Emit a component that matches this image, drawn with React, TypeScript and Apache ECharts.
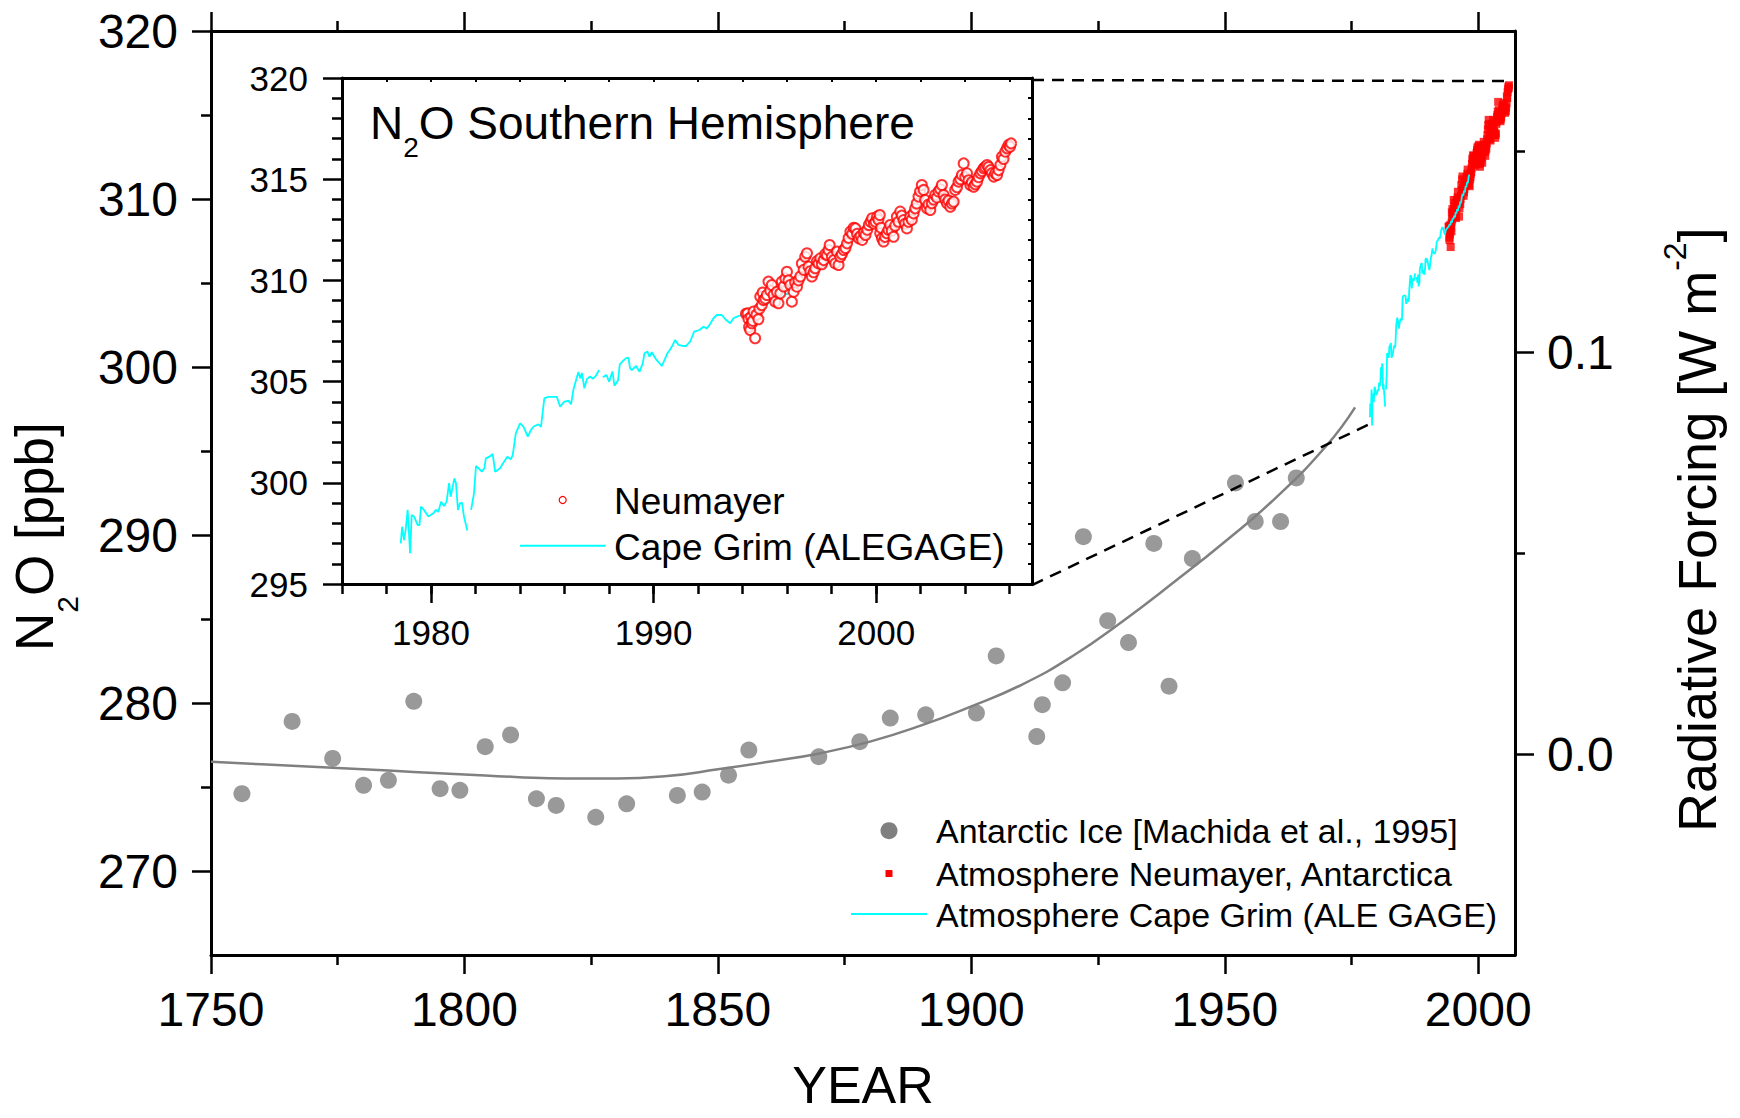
import React, { useEffect, useRef } from 'react';
import * as echarts from 'echarts';

const FONT = '"Liberation Sans", Arial, Helvetica, sans-serif';

// ---------- tick values ----------
const MAIN_MAJOR_YEARS = [1750, 1800, 1850, 1900, 1950, 2000];
const MAIN_MINOR_YEARS = [1775, 1825, 1875, 1925, 1975];
const MAIN_PPB_LABELS = [270, 280, 290, 300, 310, 320];
const MAIN_PPB_MINOR = [275, 285, 295, 305, 315];
const RF_LABELS = [0, 0.1];
const RF_MINOR = [0.05, 0.15];
const INSET_YEAR_LABELS = [1980, 1990, 2000];
const INSET_YEAR_MINOR = [1976, 1978, 1980, 1982, 1984, 1986, 1988, 1990, 1992, 1994, 1996, 1998, 2000, 2002, 2004, 2006];

// ---------- Antarctic ice core (Machida et al., 1995) ----------
const iceYears = [1756.1, 1766.0, 1774.0, 1780.1, 1785.0, 1790.0, 1795.2, 1799.1, 1804.1, 1809.1, 1814.2, 1818.1, 1825.9, 1832.0, 1842.0, 1846.9, 1852.1, 1856.1, 1869.9, 1878.0, 1884.0, 1891.0, 1901.0, 1904.9, 1912.9, 1914.0, 1918.0, 1922.1, 1926.9, 1931.0, 1936.0, 1939.0, 1943.6, 1952.1, 1956.0, 1961.0, 1964.1];
const icePpb = [274.6, 278.9, 276.7, 275.1, 275.4, 280.1, 274.9, 274.8, 277.4, 278.1, 274.3, 273.9, 273.2, 274.0, 274.5, 274.7, 275.7, 277.2, 276.8, 277.7, 279.1, 279.3, 279.4, 282.8, 278.0, 279.9, 281.2, 289.9, 284.9, 283.6, 289.5, 281.0, 288.6, 293.1, 290.8, 290.8, 293.4];

// ---------- smooth fit through ice core ----------
const fitYears = [1750, 1760, 1770, 1780, 1790, 1800, 1810, 1820, 1830, 1840, 1850, 1860, 1870, 1880, 1890, 1900, 1910, 1920, 1930, 1940, 1950, 1960, 1970, 1975.7];
const fitPpb = [276.5, 276.35, 276.2, 276.05, 275.9, 275.75, 275.6, 275.5, 275.5, 275.65, 276.05, 276.5, 277.0, 277.7, 278.65, 279.8, 281.1, 282.8, 284.9, 287.2, 289.6, 292.2, 295.3, 297.6];

// ---------- Cape Grim (ALE/GAGE), null = data gap ----------
const capeGrim: [number, number | null][] = [
  [1978.64, 297.01], [1978.70, 297.83], [1978.79, 297.17], [1978.86, 297.67], [1978.95, 298.66], [1979.06, 296.52], [1979.13, 298.41], [1979.24, 298.33], [1979.40, 297.91], [1979.48, 297.91], [1979.55, 298.82], [1979.66, 298.69], [1979.88, 298.33], [1980.10, 298.49], [1980.22, 298.66], [1980.33, 298.57], [1980.45, 299.07], [1980.58, 298.85], [1980.70, 299.07], [1980.81, 299.98], [1980.88, 299.31], [1981.05, 300.22], [1981.12, 299.98], [1981.21, 298.66], [1981.30, 298.99], [1981.39, 299.02], [1981.48, 298.33], [1981.63, 297.64],
  [1981.72, null],
  [1981.80, 298.66], [1981.93, 299.48], [1982.02, 300.83], [1982.13, 300.72], [1982.28, 300.55], [1982.40, 300.72], [1982.46, 301.21], [1982.62, 301.29], [1982.77, 301.42], [1982.88, 300.55], [1983.10, 300.72], [1983.25, 300.99], [1983.43, 301.29], [1983.58, 301.16], [1983.67, 301.37], [1983.81, 302.45], [1984.00, 302.94], [1984.15, 302.77], [1984.35, 302.28], [1984.49, 302.61], [1984.60, 302.77], [1984.82, 302.89], [1984.94, 302.77], [1985.09, 304.17], [1985.27, 304.25], [1985.65, 304.25], [1985.80, 303.76], [1985.98, 304.0], [1986.17, 304.06], [1986.29, 303.88], [1986.40, 304.62], [1986.62, 305.47], [1986.71, 305.16], [1986.78, 305.43], [1986.89, 304.67], [1987.00, 305.12], [1987.15, 305.26], [1987.27, 305.13], [1987.40, 305.28], [1987.55, 305.57],
  [1987.63, null],
  [1987.72, 305.21], [1987.88, 305.33], [1988.00, 305.0], [1988.15, 305.5], [1988.24, 304.8], [1988.40, 305.05], [1988.48, 305.85], [1988.65, 306.05], [1988.75, 306.15], [1988.87, 306.18], [1988.94, 305.66], [1989.02, 305.57], [1989.21, 305.77], [1989.37, 305.49], [1989.51, 305.90], [1989.59, 306.40], [1989.72, 306.48], [1989.81, 306.23], [1989.92, 306.45], [1990.11, 306.10], [1990.37, 305.77], [1990.52, 306.15], [1990.62, 306.40], [1990.74, 306.59], [1990.86, 306.81], [1990.97, 307.06], [1991.12, 306.81], [1991.31, 306.76], [1991.46, 306.76], [1991.64, 306.97], [1991.82, 307.47], [1992.06, 307.55], [1992.24, 307.71], [1992.39, 307.63], [1992.51, 307.80], [1992.69, 308.13], [1992.84, 308.29], [1993.06, 308.29], [1993.26, 308.04], [1993.44, 307.88], [1993.59, 308.13], [1993.74, 308.21], [1993.96, 308.29], [1994.19, 308.37],
  [1994.35, 308.5], [1994.5, 308.45], [1994.65, 308.7], [1994.8, 308.6], [1994.95, 308.85], [1995.1, 308.8], [1995.25, 309.0], [1995.4, 308.9], [1995.55, 309.2], [1995.7, 309.15], [1995.85, 309.4], [1996.0, 309.3], [1996.15, 309.6], [1996.3, 309.5], [1996.45, 309.85], [1996.6, 309.75], [1996.75, 310.1], [1996.9, 310.3], [1997.05, 310.2], [1997.2, 310.5], [1997.35, 310.4], [1997.5, 310.75], [1997.65, 310.7], [1997.8, 311.0], [1997.95, 310.95], [1998.1, 311.3], [1998.22, 311.45],
];

// ---------- Neumayer, Antarctica ----------
const neumayer: [number, number][] = [
  [1994.15, 308.35], [1994.22, 308.37], [1994.26, 308.1], [1994.29, 307.7], [1994.34, 307.55], [1994.38, 308.2], [1994.41, 307.88], [1994.45, 308.0], [1994.49, 308.46], [1994.56, 307.14], [1994.62, 308.3], [1994.71, 308.08], [1994.75, 308.6], [1994.79, 309.2], [1994.86, 308.78], [1994.90, 309.4], [1994.94, 309.03], [1995.02, 309.1], [1995.09, 309.28], [1995.16, 309.94], [1995.24, 309.5], [1995.31, 309.77], [1995.39, 309.28], [1995.46, 308.95], [1995.54, 309.44], [1995.61, 308.87], [1995.69, 309.36], [1995.76, 309.94], [1995.84, 309.7], [1995.92, 310.1], [1995.99, 310.43],
  [1996.06, 310.0], [1996.14, 309.77], [1996.21, 308.95], [1996.29, 309.44], [1996.36, 309.9], [1996.44, 309.69], [1996.51, 310.0], [1996.59, 310.19], [1996.66, 310.84], [1996.74, 310.52], [1996.81, 311.17], [1996.89, 311.34], [1996.96, 310.68], [1997.04, 310.45], [1997.11, 310.19], [1997.19, 310.4], [1997.26, 310.6], [1997.34, 310.95], [1997.41, 310.84], [1997.49, 311.09], [1997.56, 310.8], [1997.64, 311.0], [1997.71, 311.3], [1997.79, 311.25], [1997.86, 311.5], [1997.91, 311.75],
  [1998.01, 311.17], [1998.09, 311.0], [1998.16, 310.84], [1998.24, 311.42], [1998.31, 310.76], [1998.39, 311.17], [1998.46, 311.3], [1998.54, 311.5], [1998.62, 311.6], [1998.69, 311.83], [1998.76, 312.1], [1998.84, 312.41], [1998.92, 312.3], [1998.99, 312.6], [1999.07, 312.57], [1999.14, 312.3], [1999.22, 312.08], [1999.30, 312.2], [1999.37, 312.0], [1999.45, 312.35], [1999.52, 312.24], [1999.60, 312.5], [1999.67, 312.74], [1999.75, 312.9], [1999.82, 313.07], [1999.90, 312.8], [1999.97, 312.9],
  [2000.04, 313.15], [2000.10, 313.0], [2000.16, 313.23], [2000.18, 312.33], [2000.22, 312.6], [2000.26, 312.08], [2000.33, 311.92], [2000.40, 312.15], [2000.48, 312.33], [2000.55, 312.5], [2000.63, 312.74], [2000.70, 312.45], [2000.78, 312.16], [2000.85, 312.7], [2000.93, 313.15], [2001.00, 312.9], [2001.08, 313.4], [2001.15, 313.2], [2001.23, 312.98], [2001.30, 312.8], [2001.38, 312.57], [2001.45, 312.9], [2001.53, 313.15], [2001.60, 313.0], [2001.68, 313.31], [2001.75, 313.56], [2001.82, 313.8], [2001.90, 314.14], [2001.97, 314.4],
  [2002.05, 314.71], [2002.13, 314.47], [2002.20, 313.97], [2002.28, 313.56], [2002.35, 313.75], [2002.43, 313.48], [2002.50, 313.81], [2002.58, 314.0], [2002.65, 314.22], [2002.73, 314.1], [2002.80, 314.39], [2002.88, 314.5], [2002.95, 314.71], [2003.03, 314.22], [2003.10, 314.0], [2003.18, 313.81], [2003.25, 313.95], [2003.33, 313.64], [2003.40, 313.8], [2003.48, 313.89], [2003.55, 314.47], [2003.63, 314.6], [2003.70, 314.88], [2003.78, 315.0], [2003.85, 315.21], [2003.93, 315.78],
  [2004.00, 315.1], [2004.08, 315.29], [2004.15, 314.95], [2004.23, 314.71], [2004.30, 314.85], [2004.38, 314.63], [2004.45, 314.75], [2004.53, 314.88], [2004.60, 315.1], [2004.68, 315.29], [2004.75, 315.4], [2004.83, 315.54], [2004.90, 315.6], [2004.98, 315.7], [2005.05, 315.6], [2005.13, 315.45], [2005.20, 315.3], [2005.28, 315.13], [2005.35, 315.3], [2005.43, 315.21], [2005.50, 315.45], [2005.58, 315.7], [2005.65, 316.11], [2005.72, 316.0], [2005.80, 316.36], [2005.88, 316.53], [2005.95, 316.69], [2006.01, 316.6], [2006.06, 316.77],
];

// ---------- zoom connector lines (main-axis coordinates of inset corners) ----------
const connectorTop: [number, number][] = [[1911.97, 317.08], [2006.65, 317.02]];
const connectorBottom: [number, number][] = [[1911.97, 287.02], [1979.04, 296.67]];

const BLACK = '#000000';
const GRAY = '#808080';
const RED = '#ff0000';
const CYAN = '#00ffff';

export default function App() {
  const ref = useRef<HTMLDivElement>(null);

  useEffect(() => {
    if (!ref.current) return;
    const chart = echarts.init(ref.current, null, { renderer: 'svg' });
    const ctx = document.createElement('canvas').getContext('2d')!;
    const tw = (t: string, size: number) => {
      ctx.font = `${size}px ${FONT}`;
      return ctx.measureText(t).width;
    };
    const txt = (text: string, x: number, y: number, size: number, align = 'left') => ({
      type: 'text',
      x,
      y,
      silent: true,
      style: {
        text,
        fill: BLACK,
        fontSize: size,
        fontFamily: FONT,
        align,
        verticalAlign: 'middle',
      },
    });

    const axisLine = (w = 3) => ({ show: true, onZero: false, lineStyle: { color: BLACK, width: w } });
    const noSplit = { show: false };
    const plain = (v: number) => String(v);

    // Inset title pieces
    const titleX = 370;
    const wN46 = tw('N', 46);
    const w2_28 = tw('2', 28);
    // Left axis title pieces
    const wN53 = tw('N', 53);
    const w2_30 = tw('2', 30);
    // Right axis title pieces
    const rfMain = 'Radiative Forcing [W m';
    const wRf = tw(rfMain, 54);
    const wSup = tw('-2', 32);

    const option: any = {
      animation: false,
      backgroundColor: '#ffffff',
      textStyle: { fontFamily: FONT, color: BLACK },
      grid: [
        { left: 211, top: 31, width: 1304, height: 924, show: false, containLabel: false, outerBoundsMode: 'none' },
        { left: 342, top: 78, width: 690, height: 506, show: true, backgroundColor: '#ffffff', borderWidth: 0, containLabel: false, outerBoundsMode: 'none' },
      ],
      xAxis: [
        { // 0 main bottom: labels + major ticks
          type: 'value', gridIndex: 0, position: 'bottom', min: 1750, max: 2007.25,
          axisLine: axisLine(3),
          axisTick: { show: true, customValues: MAIN_MAJOR_YEARS, length: 19, lineStyle: { color: BLACK, width: 2.5 } },
          axisLabel: { show: true, customValues: MAIN_MAJOR_YEARS, formatter: plain, fontSize: 48, fontFamily: FONT, color: BLACK, margin: 30 },
          splitLine: noSplit,
        },
        { // 1 main bottom minor ticks
          type: 'value', gridIndex: 0, position: 'bottom', min: 1750, max: 2007.25,
          axisLine: { show: false, onZero: false },
          axisTick: { show: true, customValues: MAIN_MINOR_YEARS, length: 10, lineStyle: { color: BLACK, width: 2.5 } },
          axisLabel: { show: false }, splitLine: noSplit,
        },
        { // 2 main top majors
          type: 'value', gridIndex: 0, position: 'top', min: 1750, max: 2007.25,
          axisLine: axisLine(3),
          axisTick: { show: true, customValues: MAIN_MAJOR_YEARS, length: 19, lineStyle: { color: BLACK, width: 2.5 } },
          axisLabel: { show: false }, splitLine: noSplit,
        },
        { // 3 main top minors
          type: 'value', gridIndex: 0, position: 'top', min: 1750, max: 2007.25,
          axisLine: { show: false, onZero: false },
          axisTick: { show: true, customValues: MAIN_MINOR_YEARS, length: 10, lineStyle: { color: BLACK, width: 2.5 } },
          axisLabel: { show: false }, splitLine: noSplit,
        },
        { // 4 inset bottom: labels + major ticks
          type: 'value', gridIndex: 1, position: 'bottom', min: 1976, max: 2007,
          axisLine: axisLine(3),
          axisTick: { show: true, customValues: INSET_YEAR_LABELS, length: 19, lineStyle: { color: BLACK, width: 2.5 } },
          axisLabel: { show: true, customValues: INSET_YEAR_LABELS, formatter: plain, fontSize: 35, fontFamily: FONT, color: BLACK, margin: 31 },
          splitLine: noSplit,
        },
        { // 5 inset bottom minor ticks
          type: 'value', gridIndex: 1, position: 'bottom', min: 1976, max: 2007,
          axisLine: { show: false, onZero: false },
          axisTick: { show: true, customValues: INSET_YEAR_MINOR, length: 10, lineStyle: { color: BLACK, width: 2.5 } },
          axisLabel: { show: false }, splitLine: noSplit,
        },
        { // 6 inset top frame
          type: 'value', gridIndex: 1, position: 'top', min: 1976, max: 2007,
          axisLine: axisLine(3),
          axisTick: { show: true, inside: true, customValues: INSET_YEAR_MINOR, length: 4, lineStyle: { color: BLACK, width: 2 } },
          axisLabel: { show: false }, splitLine: noSplit,
        },
      ],
      yAxis: [
        { // 0 main left labels + majors
          type: 'value', gridIndex: 0, position: 'left', min: 265, max: 320,
          axisLine: axisLine(3),
          axisTick: { show: true, customValues: MAIN_PPB_LABELS, length: 19, lineStyle: { color: BLACK, width: 2.5 } },
          axisLabel: { show: true, customValues: MAIN_PPB_LABELS, formatter: plain, fontSize: 48, fontFamily: FONT, color: BLACK, margin: 33 },
          splitLine: noSplit,
        },
        { // 1 main left minors
          type: 'value', gridIndex: 0, position: 'left', min: 265, max: 320,
          axisLine: { show: false, onZero: false },
          axisTick: { show: true, customValues: MAIN_PPB_MINOR, length: 10, lineStyle: { color: BLACK, width: 2.5 } },
          axisLabel: { show: false }, splitLine: noSplit,
        },
        { // 2 main right: radiative forcing
          type: 'value', gridIndex: 0, position: 'right', min: -0.05, max: 0.18,
          axisLine: axisLine(3),
          axisTick: { show: true, customValues: RF_LABELS, length: 19, lineStyle: { color: BLACK, width: 2.5 } },
          axisLabel: { show: true, customValues: RF_LABELS, fontSize: 48, fontFamily: FONT, color: BLACK, margin: 32, formatter: (v: number) => v.toFixed(1) },
          splitLine: noSplit,
        },
        { // 3 main right minors
          type: 'value', gridIndex: 0, position: 'right', min: -0.05, max: 0.18,
          axisLine: { show: false, onZero: false },
          axisTick: { show: true, customValues: RF_MINOR, length: 10, lineStyle: { color: BLACK, width: 2.5 } },
          axisLabel: { show: false }, splitLine: noSplit,
        },
        { // 4 inset left
          type: 'value', gridIndex: 1, position: 'left', min: 295, max: 320, interval: 5,
          axisLine: axisLine(3),
          axisTick: { show: true, length: 19, lineStyle: { color: BLACK, width: 2.5 } },
          minorTick: { show: true, splitNumber: 5, length: 10, lineStyle: { color: BLACK, width: 2.5 } },
          axisLabel: { show: true, formatter: plain, fontSize: 35, fontFamily: FONT, color: BLACK, margin: 34 },
          splitLine: noSplit, minorSplitLine: { show: false },
        },
        { // 5 inset right frame
          type: 'value', gridIndex: 1, position: 'right', min: 295, max: 320, interval: 1,
          axisLine: axisLine(3),
          axisTick: { show: true, inside: true, length: 4, lineStyle: { color: BLACK, width: 2 } },
          axisLabel: { show: false }, splitLine: noSplit,
        },
      ],
      series: [
        {
          name: 'Ice core fit', type: 'line', xAxisIndex: 0, yAxisIndex: 0,
          data: fitYears.map((y, i) => [y, fitPpb[i]]),
          smooth: 0.5, symbol: 'none', showSymbol: false,
          lineStyle: { color: GRAY, width: 2.5 }, z: 2, silent: true,
        },
        {
          name: 'Antarctic Ice [Machida et al., 1995]', type: 'scatter', xAxisIndex: 0, yAxisIndex: 0,
          data: iceYears.map((y, i) => [y, icePpb[i]]),
          symbol: 'circle', symbolSize: 17, itemStyle: { color: GRAY }, z: 3, silent: true,
        },
        {
          name: 'Atmosphere Neumayer, Antarctica', type: 'scatter', xAxisIndex: 0, yAxisIndex: 0,
          data: neumayer, symbol: 'rect', symbolSize: 8, itemStyle: { color: RED }, z: 4, silent: true,
        },
        {
          name: 'Atmosphere Cape Grim (ALE GAGE)', type: 'line', xAxisIndex: 0, yAxisIndex: 0,
          data: capeGrim, connectNulls: false, symbol: 'none', showSymbol: false,
          lineStyle: { color: CYAN, width: 1.8 }, z: 5, silent: true,
        },
        {
          name: 'connector top', type: 'line', xAxisIndex: 0, yAxisIndex: 0,
          data: connectorTop, symbol: 'none', showSymbol: false,
          lineStyle: { color: BLACK, width: 2.5, type: [12, 8] }, z: 6, silent: true,
        },
        {
          name: 'connector bottom', type: 'line', xAxisIndex: 0, yAxisIndex: 0,
          data: connectorBottom, symbol: 'none', showSymbol: false,
          lineStyle: { color: BLACK, width: 2.5, type: [12, 8] }, z: 6, silent: true,
        },
        {
          name: 'Cape Grim (ALEGAGE)', type: 'line', xAxisIndex: 4, yAxisIndex: 4,
          data: capeGrim, connectNulls: false, symbol: 'none', showSymbol: false,
          lineStyle: { color: CYAN, width: 1.8 }, z: 5, silent: true,
        },
        {
          name: 'Neumayer', type: 'scatter', xAxisIndex: 4, yAxisIndex: 4,
          data: neumayer, symbol: 'emptyCircle', symbolSize: 10,
          itemStyle: { color: RED, borderColor: RED, borderWidth: 1.5 }, z: 6, silent: true,
        },
      ],
      graphic: [
        // inset title: N2O Southern Hemisphere
        txt('N', titleX, 123, 46),
        txt('2', titleX + wN46, 147, 28),
        txt('O Southern Hemisphere', titleX + wN46 + w2_28, 123, 46),
        // inset legend
        { type: 'circle', shape: { cx: 562.7, cy: 500, r: 3.5 }, style: { fill: '#ffffff', stroke: RED, lineWidth: 1.2 }, silent: true, z: 100 },
        { type: 'line', shape: { x1: 520, y1: 545.7, x2: 605.7, y2: 545.7 }, style: { stroke: CYAN, lineWidth: 2 }, silent: true, z: 100 },
        txt('Neumayer', 614, 501, 37),
        txt('Cape Grim (ALEGAGE)', 614, 547, 37),
        // main legend
        { type: 'circle', shape: { cx: 889, cy: 830.7, r: 8.5 }, style: { fill: GRAY }, silent: true, z: 100 },
        { type: 'rect', shape: { x: 885.5, y: 870, width: 7, height: 7 }, style: { fill: RED }, silent: true, z: 100 },
        { type: 'line', shape: { x1: 851, y1: 914, x2: 927, y2: 914 }, style: { stroke: CYAN, lineWidth: 2 }, silent: true, z: 100 },
        txt('Antarctic Ice [Machida et al., 1995]', 936, 831, 34),
        txt('Atmosphere Neumayer, Antarctica', 936, 873.5, 34),
        txt('Atmosphere Cape Grim (ALE GAGE)', 936, 915, 34),
        // x axis title
        txt('YEAR', 863, 1085, 52, 'center'),
        // left axis title (rotated)
        {
          type: 'group', x: 34.5, y: 651, rotation: Math.PI / 2, silent: true,
          children: [
            txt('N', 0, 0, 53),
            txt('2', wN53, 33, 30),
            txt('O [ppb]', wN53 + w2_30, 0, 53),
          ],
        },
        // right axis title (rotated)
        {
          type: 'group', x: 1697, y: 832, rotation: Math.PI / 2, silent: true,
          children: [
            txt(rfMain, 0, 0, 54),
            txt('-2', wRf, -22, 32),
            txt(']', wRf + wSup, 0, 54),
          ],
        },
      ],
    };

    chart.setOption(option);
    return () => chart.dispose();
  }, []);

  return (
    <div
      ref={ref}
      style={{ position: 'absolute', left: 0, top: 0, width: 1740, height: 1118, background: '#ffffff' }}
    />
  );
}
